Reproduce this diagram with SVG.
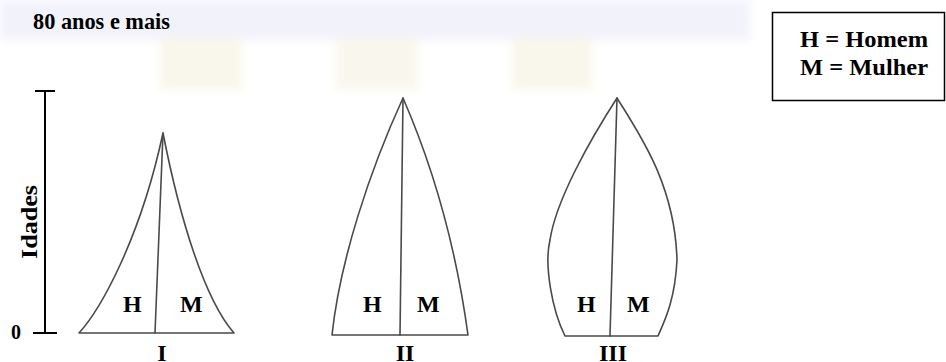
<svg xmlns="http://www.w3.org/2000/svg" width="946" height="362" viewBox="0 0 946 362">
<style>
.t{font-family:"Liberation Serif","Times New Roman",serif;font-weight:bold;fill:#000}
.pen{fill:none;stroke:#4a4a4a;stroke-width:1.6;stroke-linecap:round;stroke-linejoin:round}
.ax{stroke:#000;stroke-width:2;fill:none}
</style>
<defs>
<filter id="blur" x="-10%" y="-10%" width="120%" height="120%"><feGaussianBlur stdDeviation="4"/></filter>
</defs>
<rect width="946" height="362" fill="#fff"/>
<g id="watermark" filter="url(#blur)" opacity="0.85">
<rect x="0" y="0" width="750" height="40" fill="#f0f0fb"/>
<rect x="160" y="38" width="82" height="52" fill="#f8f6e8"/>
<rect x="336" y="38" width="82" height="52" fill="#f8f6ea"/>
<rect x="512" y="38" width="80" height="52" fill="#f8f6e8"/>
</g>
<text id="title" class="t" x="33" y="29" font-size="22.5" textLength="137" lengthAdjust="spacingAndGlyphs">80 anos e mais</text>
<g id="legend">
<rect x="772.5" y="12.5" width="172" height="88" fill="#fff" stroke="#000" stroke-width="1.5"/>
<text class="t" x="864" y="47" font-size="24" text-anchor="middle" textLength="128" lengthAdjust="spacingAndGlyphs">H = Homem</text>
<text class="t" x="864" y="75" font-size="24" text-anchor="middle" textLength="128" lengthAdjust="spacingAndGlyphs">M = Mulher</text>
</g>
<g id="axis">
<line class="ax" x1="45" y1="91" x2="45" y2="333"/>
<line class="ax" x1="35" y1="91" x2="55" y2="91"/>
<line class="ax" x1="33" y1="333" x2="57" y2="333"/>
<text class="t" x="11" y="339" font-size="20">0</text>
<text class="t" transform="translate(37,222) rotate(-90)" font-size="23" text-anchor="middle" textLength="74" lengthAdjust="spacingAndGlyphs">Idades</text>
</g>
<g id="pyramid-I">
<path class="pen" d="M79 333 C100 310 140 240 163 133 C180 220 205 300 234 333 Z"/>
<line class="pen" x1="163" y1="133" x2="155" y2="333"/>
<text class="t" x="123" y="312" font-size="24">H</text>
<text class="t" x="180" y="312" font-size="24">M</text>
<text class="t" x="162" y="361" font-size="24" text-anchor="middle">I</text>
</g>
<g id="pyramid-II">
<path class="pen" d="M332 335 C340 260 370 170 403 98 C430 160 455 240 468 335 Z"/>
<line class="pen" x1="403" y1="98" x2="400" y2="335"/>
<text class="t" x="363" y="312" font-size="24">H</text>
<text class="t" x="417" y="312" font-size="24">M</text>
<text class="t" x="405" y="361" font-size="24" text-anchor="middle">II</text>
</g>
<g id="pyramid-III">
<path class="pen" d="M565 336 C552 310 544 265 550 240 C556 200 590 140 617 98 C640 135 675 185 677 260 C675 300 665 320 658 336 Z"/>
<line class="pen" x1="617" y1="98" x2="610" y2="336"/>
<text class="t" x="577" y="312" font-size="24">H</text>
<text class="t" x="627" y="312" font-size="24">M</text>
<text class="t" x="613" y="361" font-size="24" text-anchor="middle">III</text>
</g>
</svg>
